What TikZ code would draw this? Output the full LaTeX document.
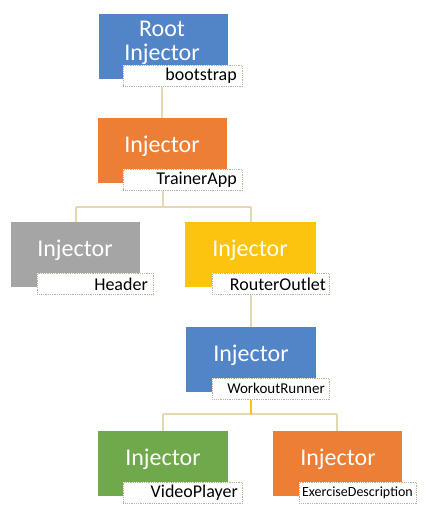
\documentclass[tikz,border=0pt]{standalone}
\usepackage{fontspec}
\setmainfont{Carlito}
\definecolor{cblue}{HTML}{5185C8}
\definecolor{corange}{HTML}{EC7E35}
\definecolor{cgray}{HTML}{A5A5A5}
\definecolor{cyellow}{HTML}{FCC30F}
\definecolor{cgreen}{HTML}{70A94B}
\definecolor{cline}{HTML}{E3D8B0}
\definecolor{cborder}{HTML}{B8B49A}
\tikzset{
  inj/.style={fill=#1, draw=none, minimum width=129pt, minimum height=65pt, inner sep=0pt},
  injtext/.style={text=white, font=\fontsize{24}{24}\selectfont, align=center, inner sep=0pt},
  lbl/.style={fill=white, draw=cborder, densely dotted, line width=0.8pt, minimum width=119pt, minimum height=21pt, inner sep=0pt},
  lbltext/.style={text=black, inner sep=0pt, anchor=east},
  conn/.style={draw=cline, line width=1.8pt},
}
\begin{document}
\begin{tikzpicture}[x=1pt,y=-1pt]
\useasboundingbox (0,0) rectangle (432,519);
\coordinate (h1l) at (76,207);
\coordinate (h1m) at (163,207);
\coordinate (h1r) at (251,207);
\coordinate (h2l) at (163,414);
\coordinate (h2m) at (251,414);
\coordinate (h2r) at (337,414);
% boxes
\node[inj=cblue, anchor=north west] (root) at (99,14) {};
\node[injtext, anchor=north] (roott) at (162,21) {Root\\Injector};
\node[lbl, anchor=north west] (rootl) at (123,65) {};
\node[lbltext, font=\fontsize{18}{20}\selectfont] (rootlt) at (237,75.5) {bootstrap};

\node[inj=corange, anchor=north west] (trainer) at (98,118) {};
\node[injtext] (trainert) at (162,146) {Injector};
\node[lbl, anchor=north west] (trainerl) at (123,169) {};
\node[lbltext, font=\fontsize{18}{20}\selectfont] (trainerlt) at (237,180) {TrainerApp};

\node[inj=cgray, anchor=north west] (header) at (11,222) {};
\node[injtext] (headert) at (75,250) {Injector};
\node[lbl, anchor=north west, minimum width=116pt] (headerl) at (37,273) {};
\node[lbltext, font=\fontsize{18}{20}\selectfont] (headerlt) at (148,284) {Header};

\node[inj=cyellow, anchor=north west, minimum width=131pt] (router) at (185,222) {};
\node[injtext] (routert) at (250,250) {Injector};
\node[lbl, anchor=north west, minimum width=117pt] (routerl) at (212,273) {};
\node[lbltext, font=\fontsize{18}{20}\selectfont] (routerlt) at (326,284) {RouterOutlet};

\node[inj=cblue, anchor=north west, minimum width=130pt] (workout) at (186,327) {};
\node[injtext] (workoutt) at (251,355) {Injector};
\node[lbl, anchor=north west, minimum width=117pt] (workoutl) at (212,378) {};
\node[lbltext, font=\fontsize{15}{17}\selectfont] (workoutlt) at (325,388.5) {WorkoutRunner};

\node[inj=cgreen, anchor=north west, minimum width=130pt] (video) at (98,431) {};
\node[injtext] (videot) at (163,459) {Injector};
\node[lbl, anchor=north west] (videol) at (123,482) {};
\node[lbltext, font=\fontsize{18}{20}\selectfont] (videolt) at (238,493) {VideoPlayer};

\node[inj=corange, anchor=north west] (exercise) at (273,431) {};
\node[injtext] (exerciset) at (338,459) {Injector};
\node[lbl, anchor=north west, minimum width=117pt] (exercisel) at (299,482) {};
\node[lbltext, font=\fontsize{14}{16}\selectfont] (exerciselt) at (413,493) {ExerciseDescription};

% connectors
\draw[conn] (rootl.south -| 162,0) -- (trainer.north -| 162,0);
\draw[conn] (trainerl.south -| h1m) -- (h1m);
\draw[conn] (h1l) -- (h1r);
\draw[conn] (h1l) -- (header.north -| h1l);
\draw[conn] (h1r) -- (router.north -| h1r);
\draw[conn] (routerl.south -| h1r) -- (workout.north -| h1r);
\draw[conn] (h2l) -- (h2r);
\draw[conn] (h2l) -- (video.north -| h2l);
\draw[conn] (h2r) -- (exercise.north -| h2r);
\draw[draw=cyellow, line width=1.2pt] (workoutl.south -| h2m) -- (h2m);
\end{tikzpicture}
\end{document}
